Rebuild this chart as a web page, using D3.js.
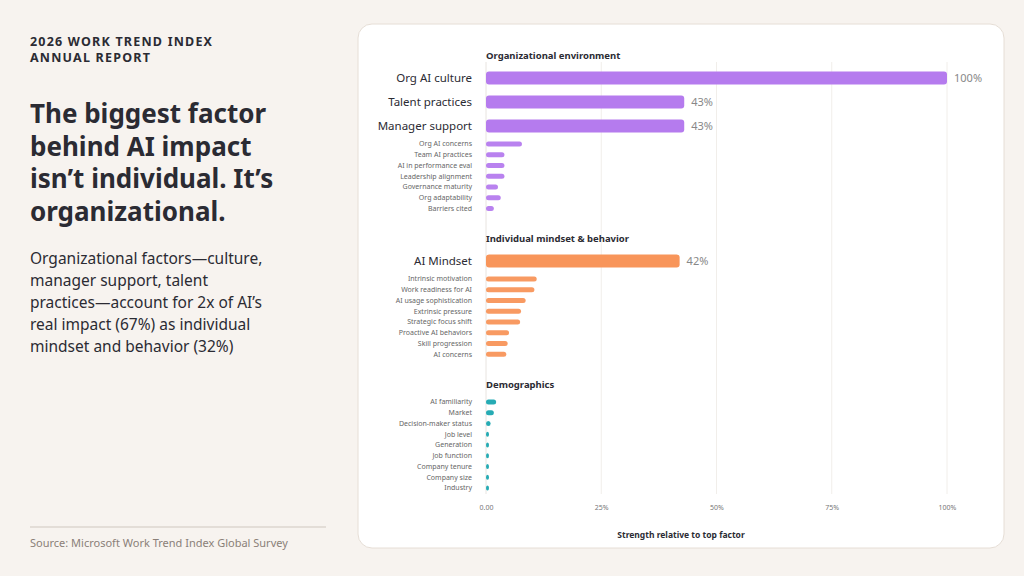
<!DOCTYPE html>
<html><head><meta charset="utf-8">
<script src="https://cdn.jsdelivr.net/npm/d3@7"></script>
<style>body{margin:0;background:#f7f3ef;font-family:"Noto Sans",sans-serif}</style>
</head><body><svg id="c" width="1024" height="576"></svg>
<script>
const orgBig = ["Org AI culture", "Talent practices", "Manager support"];
const orgBigVals = [1.00, 0.43, 0.43];
const orgSmall = ["Org AI concerns","Team AI practices","AI in performance eval","Leadership alignment","Governance maturity","Org adaptability","Barriers cited"];
const orgSmallVals = [0.078, 0.04, 0.04, 0.04, 0.026, 0.032, 0.017];
const indBig = ["AI Mindset"];
const indBigVals = [0.42];
const indSmall = ["Intrinsic motivation","Work readiness for AI","AI usage sophistication","Extrinsic pressure","Strategic focus shift","Proactive AI behaviors","Skill progression","AI concerns"];
const indSmallVals = [0.11, 0.105, 0.086, 0.076, 0.074, 0.05, 0.047, 0.044];
const demo = ["AI familiarity","Market","Decision-maker status","Job level","Generation","Job function","Company tenure","Company size","Industry"];
const demoVals = [0.022, 0.017, 0.01, 0.006, 0.006, 0.006, 0.005, 0.003, 0.002];
const ticks = [0, 0.25, 0.5, 0.75, 1];
const tickLabels = ["0.00", "25%", "50%", "75%", "100%"];

const svg = d3.select("#c");
// left panel
const L = svg.append("g").attr("fill", "#2b2b33");
["2026 WORK TREND INDEX", "ANNUAL REPORT"].forEach((t, i) =>
  L.append("text").attr("x", 30).attr("y", 46 + i * 16).attr("font-size", 12.5).attr("font-weight", 700)
   .attr("letter-spacing", 1.2).text(t));
["The biggest factor", "behind AI impact", "isn’t individual. It’s", "organizational."].forEach((t, i) =>
  L.append("text").attr("x", 30).attr("y", 123 + i * 32.5).attr("font-size", 26).attr("font-weight", 700).text(t));
["Organizational factors—culture,", "manager support, talent", "practices—account for 2x of AI’s", "real impact (67%) as individual", "mindset and behavior (32%)"].forEach((t, i) =>
  L.append("text").attr("x", 30).attr("y", 264 + i * 22).attr("font-size", 15.5).text(t));
svg.append("line").attr("x1", 30).attr("x2", 326).attr("y1", 527).attr("y2", 527).attr("stroke", "#ddd6cf").attr("stroke-width", 1.5);
svg.append("text").attr("x", 30).attr("y", 547).attr("font-size", 11).attr("fill", "#8a7f78").text("Source: Microsoft Work Trend Index Global Survey");

// card
svg.append("rect").attr("x", 358).attr("y", 24).attr("width", 646).attr("height", 524).attr("rx", 14)
  .attr("fill", "#fff").attr("stroke", "#e6ded6");

const x = d3.scaleLinear().domain([0, 1]).range([486, 947]);
const g = svg.append("g");
g.selectAll(".grid").data(ticks.slice(1)).join("line").attr("x1", x).attr("x2", x)
  .attr("y1", 62).attr("y2", 494).attr("stroke", "#f1eeea");
g.append("line").attr("x1", x(0)).attr("x2", x(0)).attr("y1", 62).attr("y2", 494).attr("stroke", "#e8e4e0");
const ax = g.append("g").attr("transform", "translate(0,502)")
  .call(d3.axisBottom(x).tickValues(ticks).tickFormat((d, i) => tickLabels[i]).tickSize(0));
ax.select(".domain").remove();
ax.selectAll("text").attr("font-size", 7).attr("fill", "#777").attr("font-family", "Noto Sans");
g.append("text").attr("x", 681).attr("y", 538).attr("text-anchor", "middle").attr("font-size", 8.5)
  .attr("font-weight", 700).attr("fill", "#2b2b33").text("Strength relative to top factor");

const sections = [
  {title: "Organizational environment", ty: 59, color: "#b57bee", big: orgBig, bigV: orgBigVals, small: orgSmall, smallV: orgSmallVals},
  {title: "Individual mindset & behavior", ty: 242, color: "#f8955a", big: indBig, bigV: indBigVals, small: indSmall, smallV: indSmallVals},
  {title: "Demographics", ty: 388, color: "#1aa6b0", big: [], bigV: [], small: demo, smallV: demoVals}
];
sections.forEach(s => {
  g.append("text").attr("x", 486).attr("y", s.ty).attr("font-size", 9.5).attr("font-weight", 700).attr("fill", "#2b2b33").text(s.title);
  let y = s.ty + 19;
  const rows = [];
  s.big.forEach((n, i) => { rows.push({n, v: s.bigV[i], y, big: true}); y += 24; });
  if (s.big.length) y -= 6; else y -= 5;
  s.small.forEach((n, i) => { rows.push({n, v: s.smallV[i], y, big: false}); y += 10.75; });
  rows.forEach(r => {
    const h = r.big ? 13 : 5;
    const w = Math.max(x(r.v) - x(0), 3);
    g.append("rect").attr("x", x(0)).attr("y", r.y - h / 2).attr("width", w).attr("height", h)
      .attr("rx", r.big ? 3 : 2.5).attr("fill", s.color).attr("opacity", r.big ? 1 : 0.95);
    g.append("text").attr("x", 472).attr("y", r.y).attr("dy", "0.35em").attr("text-anchor", "end")
      .attr("font-size", r.big ? 11.5 : 7).attr("fill", r.big ? "#2b2b33" : "#666").text(r.n);
    if (r.big) g.append("text").attr("x", x(r.v) + 7).attr("y", r.y).attr("dy", "0.35em")
      .attr("font-size", 11).attr("fill", "#888").text(Math.round(r.v * 100) + "%");
  });
});
</script></body></html>
